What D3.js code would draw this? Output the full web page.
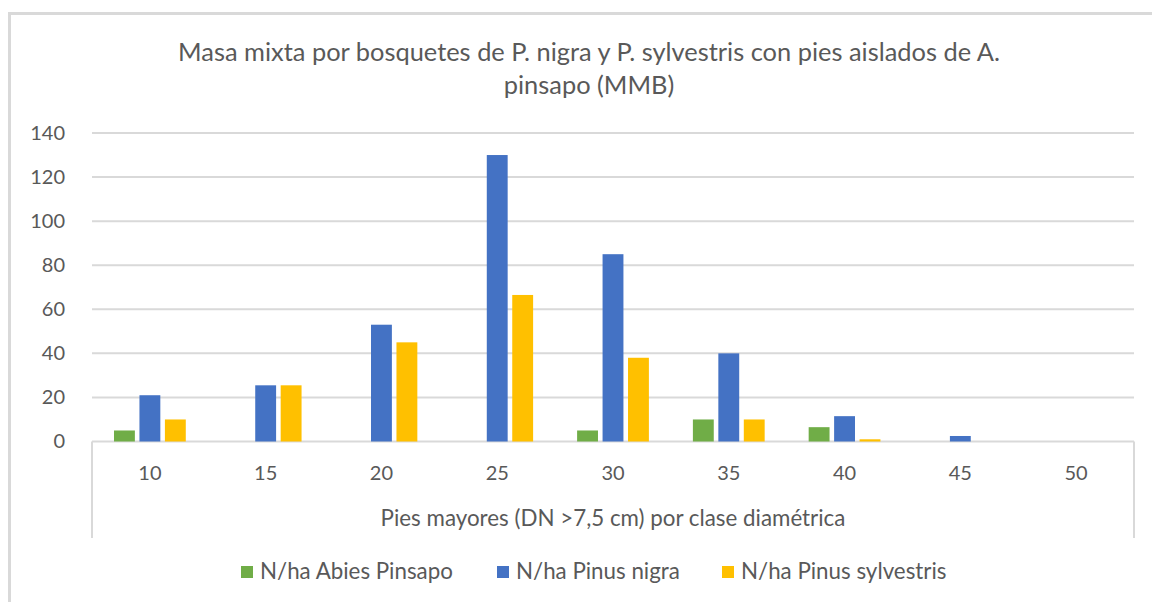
<!DOCTYPE html>
<html>
<head>
<meta charset="utf-8">
<script src="https://cdn.jsdelivr.net/npm/d3@7"></script>
<style>
  html, body { margin: 0; padding: 0; background: #fff; }
  svg { display: block; }
  text { font-family: Lato, "Open Sans", sans-serif; fill: #595959; }
</style>
</head>
<body>
<svg id="chart" width="1152" height="602"></svg>
<script>
const titleLines = ["Masa mixta por bosquetes de P. nigra y P. sylvestris con pies aislados de A.", "pinsapo (MMB)"];
const xAxisTitle = "Pies mayores (DN >7,5 cm) por clase diamétrica";
const categories = ["10", "15", "20", "25", "30", "35", "40", "45", "50"];
const seriesNames = ["N/ha Abies Pinsapo", "N/ha Pinus nigra", "N/ha Pinus sylvestris"];
const abiesPinsapo = [5, 0, 0, 0, 5, 10, 6.5, 0, 0];
const pinusNigra = [21, 25.5, 53, 130, 85, 40, 11.5, 2.5, 0];
const pinusSylvestris = [10, 25.5, 45, 66.5, 38, 10, 1, 0, 0];
const yTicks = [0, 20, 40, 60, 80, 100, 120, 140];
const colors = ["#70AD47", "#4472C4", "#FFC000"];

(function () {
const seriesValues = [abiesPinsapo, pinusNigra, pinusSylvestris];
const svg = d3.select("#chart");

function fitText(sel, target) {
  const node = sel.node();
  const fs = parseFloat(sel.attr("font-size"));
  const w = node.getComputedTextLength();
  sel.attr("font-size", (fs * target / w).toFixed(2));
}

// outer border
svg.append("rect")
  .attr("x", 9.5).attr("y", 13.5)
  .attr("width", 1160).attr("height", 610)
  .attr("fill", "none").attr("stroke", "#D9D9D9").attr("stroke-width", 3);

const pLeft = 92, pRight = 1134, pTop = 133, pBottom = 441.5;

const y = d3.scaleLinear().domain([0, 140]).range([pBottom, pTop]);
const x0 = d3.scaleBand().domain(categories).range([pLeft, pRight]).paddingInner(0.38).paddingOuter(0.19);
const x1 = d3.scaleBand().domain(d3.range(seriesNames.length)).range([0, x0.bandwidth()]).paddingInner(0.18);

// gridlines
svg.append("g").selectAll("line").data(yTicks).join("line")
  .attr("x1", pLeft).attr("x2", pRight)
  .attr("y1", d => y(d)).attr("y2", d => y(d))
  .attr("stroke", "#D9D9D9").attr("stroke-width", 2);

// category axis box sides
[pLeft, pRight].forEach(xx => {
  svg.append("line").attr("x1", xx).attr("x2", xx)
    .attr("y1", y(0)).attr("y2", 538)
    .attr("stroke", "#D9D9D9").attr("stroke-width", 2);
});

// y axis labels
const yAxis = d3.axisLeft(y).tickValues(yTicks).tickSize(0).tickPadding(0);
const yg = svg.append("g").attr("transform", `translate(${65},0)`).call(yAxis);
yg.select(".domain").remove();
yg.selectAll("text").attr("font-size", 20).attr("font-family", "Lato").attr("fill", "#595959");

// x axis labels
const xAxis = d3.axisBottom(x0).tickSize(0).tickPadding(0);
const xg = svg.append("g").attr("transform", `translate(0,${466})`).call(xAxis);
xg.select(".domain").remove();
xg.selectAll("text").attr("font-size", 20).attr("font-family", "Lato").attr("fill", "#595959");

// bars
const groups = svg.append("g").selectAll("g").data(categories).join("g")
  .attr("transform", d => `translate(${x0(d)},0)`);
groups.selectAll("rect")
  .data((d, i) => seriesValues.map((vals, s) => ({ s, v: vals[i] })))
  .join("rect")
  .attr("x", d => x1(d.s))
  .attr("width", x1.bandwidth())
  .attr("y", d => y(d.v))
  .attr("height", d => y(0) - y(d.v))
  .attr("fill", d => colors[d.s]);

// title
const t1 = svg.append("text").attr("x", 589).attr("y", 61).attr("text-anchor", "middle")
  .attr("font-size", 22).text(titleLines[0]);
fitText(t1, 822);
svg.append("text").attr("x", 589).attr("y", 94).attr("text-anchor", "middle")
  .attr("font-size", t1.attr("font-size")).text(titleLines[1]);

// x axis title
const at = svg.append("text").attr("x", (pLeft + pRight) / 2).attr("y", 526).attr("text-anchor", "middle")
  .attr("font-size", 18).text(xAxisTitle);
fitText(at, 465);

// legend
const legendX = [241, 497, 722];
const lg = svg.append("g");
let legendFs = null;
seriesNames.forEach((name, i) => {
  lg.append("rect").attr("x", legendX[i]).attr("y", 566).attr("width", 12).attr("height", 12).attr("fill", colors[i]);
  const tx = lg.append("text").attr("x", legendX[i] + 19).attr("y", 579).attr("font-size", 18).text(name);
  if (i === 0) { fitText(tx, 193); legendFs = tx.attr("font-size"); }
  else tx.attr("font-size", legendFs);
});
})();
</script>
</body>
</html>
